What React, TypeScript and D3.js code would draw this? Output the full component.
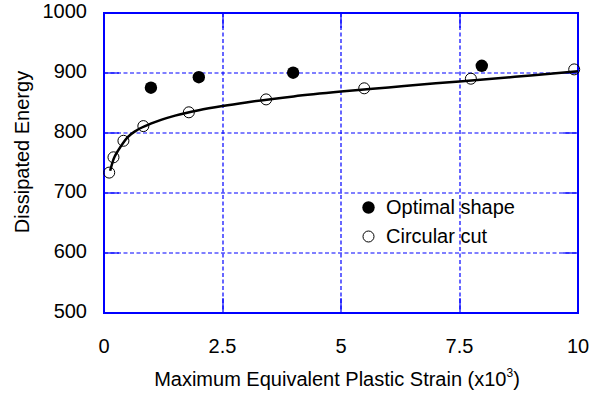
import React from "react";
import * as d3 from "d3";

const xTicks = [0, 2.5, 5, 7.5, 10];
const xTickLabels = ["0", "2.5", "5", "7.5", "10"];
const yTicks = [500, 600, 700, 800, 900, 1000];

const optimalX = [0.99, 2.0, 3.99, 7.97];
const optimalY = [875.5, 893, 900.5, 912];

const circularX = [0.11, 0.2, 0.41, 0.83, 1.79, 3.42, 5.49, 7.74, 9.92];
const circularY = [734, 759.5, 787, 811.5, 834.5, 856, 874.5, 890.5, 906];

const fitX = [0.13, 0.2, 0.3, 0.4, 0.5, 0.7, 1.0, 1.5, 2.0, 2.5, 3.0, 4.0, 5.0, 6.0, 7.0, 8.0, 9.0, 10];
const fitY = [737, 756, 771, 783, 793, 805, 816, 829, 838, 845, 851, 861, 869, 876, 883, 889, 896, 903];

const W = 589;
const H = 396;
const L = 104, R = 578, T = 13, B = 313;
const FONT = "'Liberation Sans', Arial, sans-serif";
const BLUE = "#0000ff";
const FS = 20;

export default function App() {
  const x = d3.scaleLinear().domain([0, 10]).range([L, R]);
  const y = d3.scaleLinear().domain([500, 1000]).range([B, T]);
  const line = d3
    .line<number>()
    .x((_, i) => x(fitX[i]))
    .y((d) => y(d))
    .curve(d3.curveMonotoneX);
  const tickLen = 15;
  const px = (t: number) => Math.round(x(t));
  const py = (t: number) => Math.round(y(t));

  return (
    <svg
      width={W}
      height={H}
      style={{ position: "absolute", left: 0, top: 0, background: "#fff" }}
      fontFamily={FONT}
    >
      {/* grid */}
      {xTicks.slice(1, -1).map((t) => (
        <line key={"gx" + t} x1={px(t)} x2={px(t)} y1={T} y2={B} stroke={BLUE} strokeWidth={1.2} strokeDasharray="4,2.5" />
      ))}
      {yTicks.slice(1, -1).map((t) => (
        <line key={"gy" + t} x1={L} x2={R} y1={py(t)} y2={py(t)} stroke={BLUE} strokeWidth={1.2} strokeDasharray="4,2.5" />
      ))}
      {/* ticks */}
      {xTicks.map((t) => (
        <g key={"tx" + t}>
          <line x1={px(t)} x2={px(t)} y1={B} y2={B - tickLen} stroke={BLUE} strokeWidth={1.2} />
          <line x1={px(t)} x2={px(t)} y1={T} y2={T + tickLen} stroke={BLUE} strokeWidth={1.2} />
        </g>
      ))}
      {yTicks.map((t) => (
        <g key={"ty" + t}>
          <line x1={L} x2={L + tickLen} y1={py(t)} y2={py(t)} stroke={BLUE} strokeWidth={1.2} />
          <line x1={R} x2={R - tickLen} y1={py(t)} y2={py(t)} stroke={BLUE} strokeWidth={1.2} />
        </g>
      ))}
      {/* frame */}
      <rect x={L} y={T} width={R - L} height={B - T} fill="none" stroke={BLUE} strokeWidth={2} />

      {/* tick labels */}
      {xTicks.map((t, i) => (
        <text key={"lx" + t} x={x(t)} y={353} textAnchor="middle" fontSize={FS} fill="#000">
          {xTickLabels[i]}
        </text>
      ))}
      {yTicks.map((t) => (
        <text key={"ly" + t} x={87} y={y(t) + 5} textAnchor="end" fontSize={FS} fill="#000">
          {t}
        </text>
      ))}

      {/* axis titles */}
      <text x={337} y={386} textAnchor="middle" fontSize={FS} fill="#000">
        Maximum Equivalent Plastic Strain (x10
        <tspan fontSize={12} dy={-9}>3</tspan>
        <tspan dy={9}>)</tspan>
      </text>
      <text
        transform={`translate(29,152) rotate(-90)`}
        textAnchor="middle"
        fontSize={FS}
        fill="#000"
      >
        Dissipated Energy
      </text>

      {/* fit line */}
      <path d={line(fitY) || ""} fill="none" stroke="#000" strokeWidth={2.5} />

      {/* circular cut points */}
      {circularX.map((v, i) => (
        <circle key={"c" + i} cx={x(v)} cy={y(circularY[i])} r={5.5} fill="none" stroke="#000" strokeWidth={1} />
      ))}
      {/* optimal shape points */}
      {optimalX.map((v, i) => (
        <circle key={"o" + i} cx={x(v)} cy={y(optimalY[i])} r={6.2} fill="#000" />
      ))}

      {/* legend */}
      <circle cx={368.5} cy={207.5} r={6.2} fill="#000" />
      <text x={386} y={214} fontSize={FS} fill="#000">Optimal shape</text>
      <circle cx={368.5} cy={236.5} r={5.5} fill="#fff" stroke="#000" strokeWidth={1} />
      <text x={386} y={243} fontSize={FS} fill="#000">Circular cut</text>
    </svg>
  );
}
